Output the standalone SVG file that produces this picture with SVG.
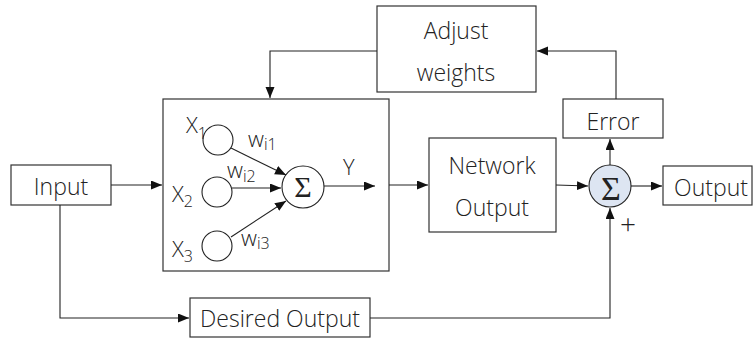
<svg xmlns="http://www.w3.org/2000/svg" width="753" height="340" viewBox="0 0 753 340">
<style>
.box{fill:#fff;stroke:#333;stroke-width:1.2}
.c{fill:#fff;stroke:#222;stroke-width:1.1}
.t{font-family:"Open Sans","Noto Sans",sans-serif;font-weight:300;font-size:23px;fill:#222;text-anchor:middle}
.s{font-family:"Open Sans","Noto Sans",sans-serif;font-weight:300;fill:#222}
.sig{font-family:"Liberation Serif",serif;font-weight:normal;fill:#222;text-anchor:middle}
.ln{fill:none;stroke:#222;stroke-width:1.1}
</style>
<defs>
<marker id="ah" markerUnits="userSpaceOnUse" markerWidth="12" markerHeight="10" refX="11" refY="4.5" orient="auto">
<path d="M0,0 L11,4.5 L0,9 z" fill="#111"/>
</marker>
</defs>
<g id="adjust">
<rect class="box" x="377" y="6" width="159" height="86"/>
<text class="t" x="456" y="39">Adjust</text>
<text class="t" x="456" y="81">weights</text>
</g>
<g id="neuron">
<rect class="box" x="163" y="99" width="226" height="172"/>
<circle class="c" cx="218" cy="140" r="15"/>
<circle class="c" cx="217" cy="192" r="15"/>
<circle class="c" cx="217" cy="246" r="15"/>
<circle class="c" cx="303" cy="187" r="21"/>
<text class="sig" x="303" y="197" font-size="30">Σ</text>
<text class="s" x="186" y="133" font-size="22">X<tspan font-size="16" dy="6">1</tspan></text>
<text class="s" x="172" y="202" font-size="22">X<tspan font-size="16" dy="5">2</tspan></text>
<text class="s" x="172" y="257" font-size="22">X<tspan font-size="16" dy="5">3</tspan></text>
<text class="s" x="248" y="147" font-size="22">w<tspan font-size="16" dy="3">i1</tspan></text>
<text class="s" x="227" y="178" font-size="22">w<tspan font-size="16" dy="4">i2</tspan></text>
<text class="s" x="241" y="246" font-size="22">w<tspan font-size="16" dy="3">i3</tspan></text>
<text class="s" x="343" y="175" font-size="22">Y</text>
</g>
<g id="input">
<rect class="box" x="11" y="165" width="100" height="40"/>
<text class="t" x="61" y="195">Input</text>
</g>
<g id="desired">
<rect class="box" x="190" y="298" width="180" height="39"/>
<text class="t" x="280" y="327">Desired Output</text>
</g>
<g id="network">
<rect class="box" x="429" y="138" width="127" height="94"/>
<text class="t" x="492" y="174">Network</text>
<text class="t" x="492" y="216">Output</text>
</g>
<g id="error">
<rect class="box" x="563" y="99" width="100" height="39"/>
<text class="t" x="613" y="130">Error</text>
</g>
<g id="sum">
<circle cx="610" cy="186" r="21" fill="#dde5f2" stroke="#222" stroke-width="1.1"/>
<text class="sig" x="611" y="200" font-size="34">Σ</text>
<text class="s" x="628" y="234" font-size="28" text-anchor="middle">+</text>
</g>
<g id="output">
<rect class="box" x="663" y="166" width="89" height="39"/>
<text class="t" x="711" y="196">Output</text>
</g>
<g id="connectors">
<path class="ln" d="M111,185 H162" marker-end="url(#ah)"/>
<path class="ln" d="M60,205 V318 H189" marker-end="url(#ah)"/>
<path class="ln" d="M370,318 H610 V208" marker-end="url(#ah)"/>
<path class="ln" d="M389,185 H428" marker-end="url(#ah)"/>
<path class="ln" d="M556,185 L588,186" marker-end="url(#ah)"/>
<path class="ln" d="M631,186 H662" marker-end="url(#ah)"/>
<path class="ln" d="M610,165 V139" marker-end="url(#ah)"/>
<path class="ln" d="M616,99 V51 H537" marker-end="url(#ah)"/>
<path class="ln" d="M377,51 H270 V98" marker-end="url(#ah)"/>
<path class="ln" d="M231,148 L286,175" marker-end="url(#ah)"/>
<path class="ln" d="M232,188 H281" marker-end="url(#ah)"/>
<path class="ln" d="M231,237 L286,201" marker-end="url(#ah)"/>
<path class="ln" d="M324,186 H375" marker-end="url(#ah)"/>
</g>
</svg>
